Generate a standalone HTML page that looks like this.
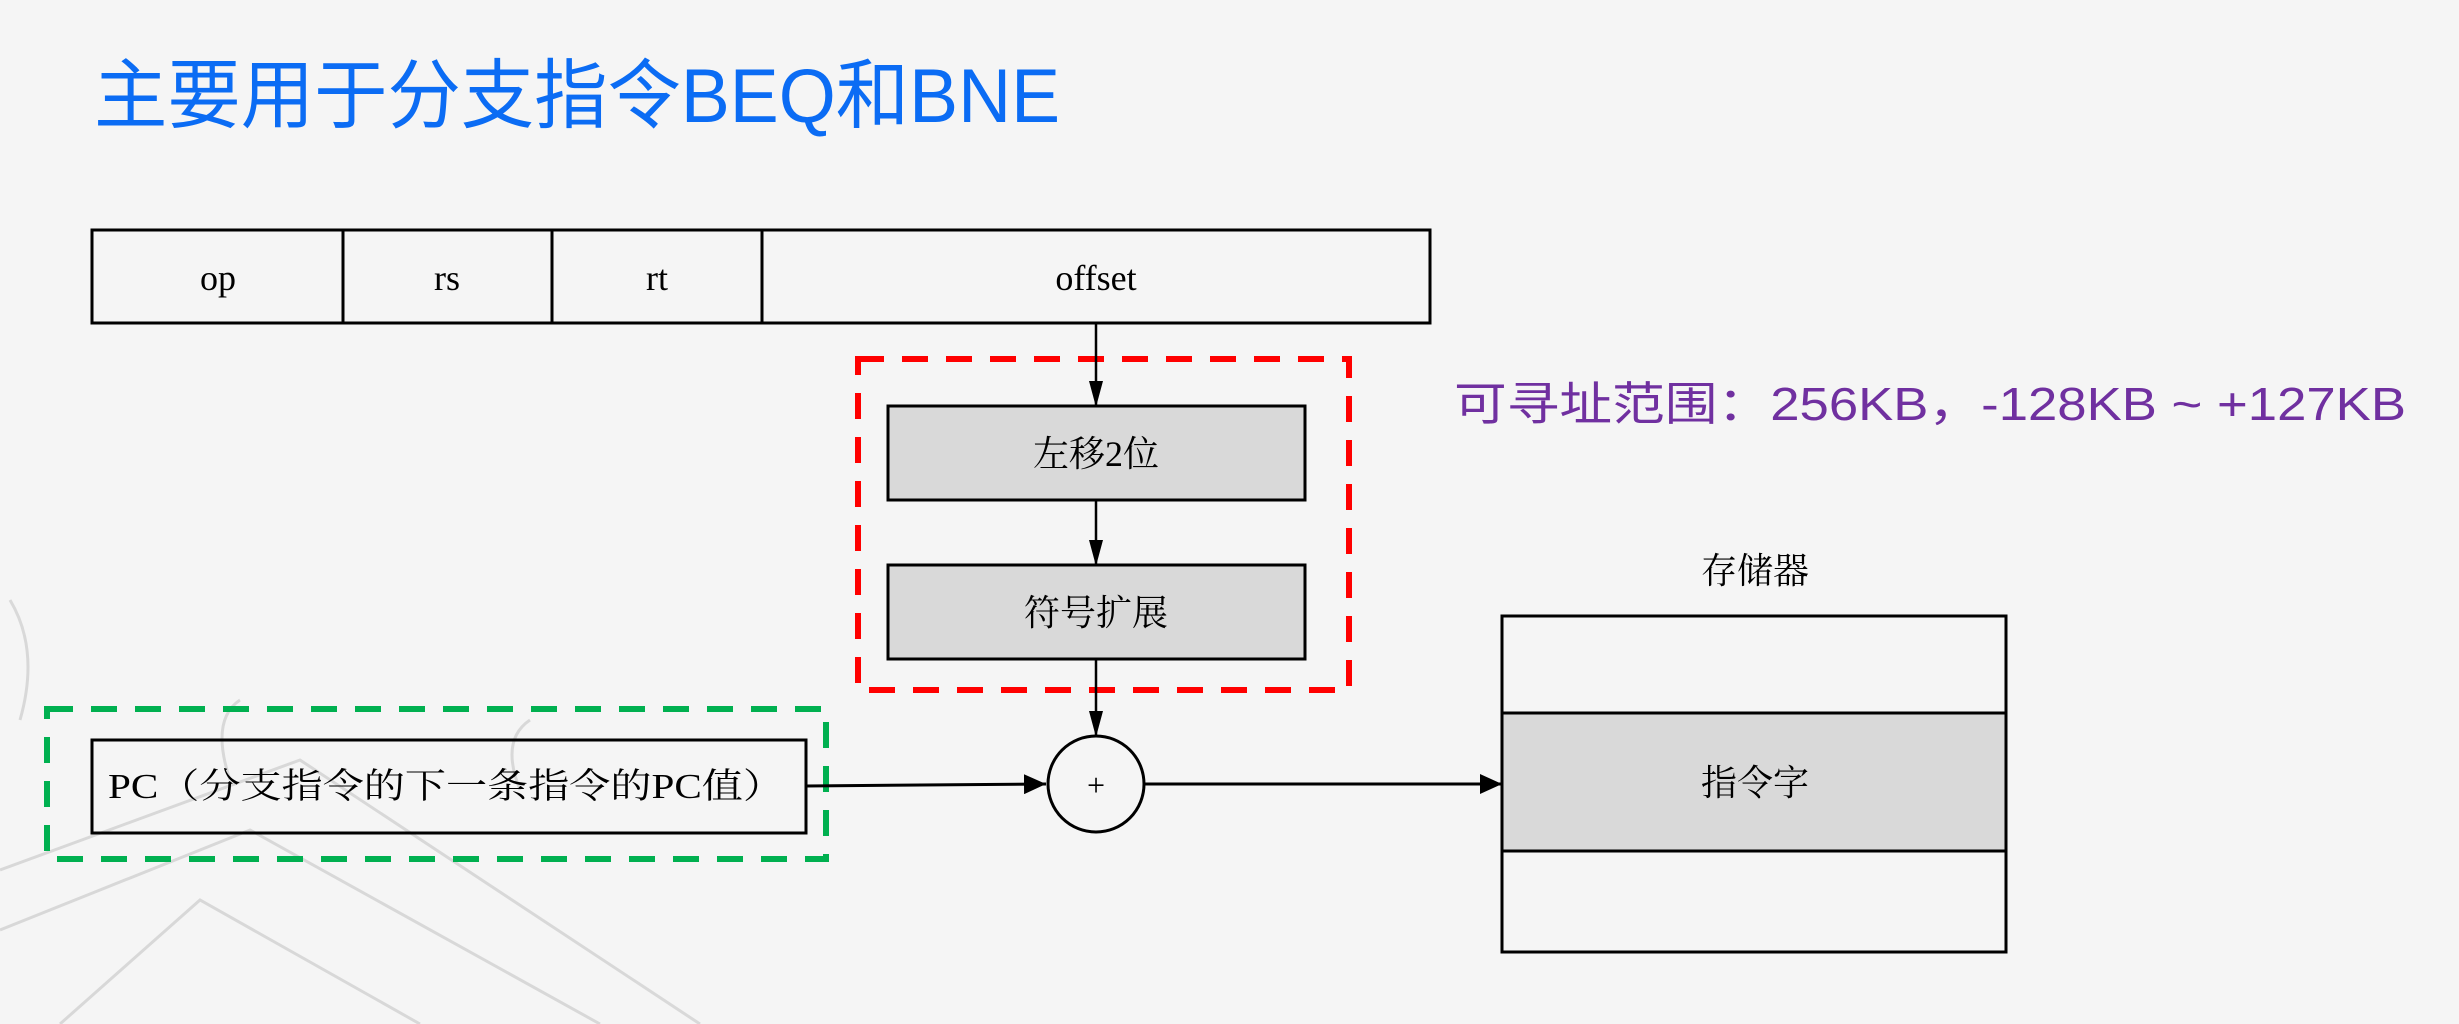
<!DOCTYPE html>
<html><head><meta charset="utf-8"><style>
html,body{margin:0;padding:0;background:#f5f5f5;}
svg{display:block}
</style></head><body>
<svg width="2459" height="1024" viewBox="0 0 2459 1024" xmlns="http://www.w3.org/2000/svg">
<defs>
<marker id="ah" markerWidth="26" markerHeight="14" refX="24" refY="7" orient="auto" markerUnits="userSpaceOnUse">
<path d="M0,0 L26,7 L0,14 Z" fill="#000"/>
</marker>
<marker id="ah2" markerWidth="24" markerHeight="20" refX="22" refY="10" orient="auto" markerUnits="userSpaceOnUse">
<path d="M0,0 L22,10 L0,20 Z" fill="#000"/>
</marker>
</defs>
<rect width="2459" height="1024" fill="#f5f5f5"/>
<g stroke="#d2d2d2" stroke-width="3" fill="none" opacity="0.8">
<path d="M0,870 L300,760 L700,1024"/>
<path d="M0,930 L250,830 L600,1024"/>
<path d="M60,1024 L200,900 L420,1024"/>
<path d="M10,600 Q40,650 20,720"/>
<path d="M230,780 Q210,720 240,700"/>
<path d="M520,790 Q500,740 530,720"/>
</g>
<text x="94" y="122" font-family="Liberation Sans, Noto Sans CJK SC, sans-serif" font-size="76" fill="#0b6cf4" textLength="966" lengthAdjust="spacingAndGlyphs">主要用于分支指令BEQ和BNE</text>

<g stroke="#000" stroke-width="3" fill="none">
<rect x="92" y="230" width="1338" height="93"/>
<line x1="343" y1="230" x2="343" y2="323"/>
<line x1="552" y1="230" x2="552" y2="323"/>
<line x1="762" y1="230" x2="762" y2="323"/>
</g>
<g font-family="Liberation Serif, Noto Serif CJK SC, serif" font-size="36" text-anchor="middle" fill="#000">
<text x="218" y="290">op</text>
<text x="447" y="290">rs</text>
<text x="657" y="290">rt</text>
<text x="1096" y="290">offset</text>
</g>

<rect x="858" y="359" width="491" height="331" fill="none" stroke="#ff0000" stroke-width="6" stroke-dasharray="26,18"/>
<rect x="888" y="406" width="417" height="94" fill="#d9d9d9" stroke="#000" stroke-width="3"/>
<rect x="888" y="565" width="417" height="94" fill="#d9d9d9" stroke="#000" stroke-width="3"/>
<g font-family="Liberation Serif, Noto Serif CJK SC, serif" font-size="36" text-anchor="middle" fill="#000">
<text x="1096" y="466">左移2位</text>
<text x="1096" y="625">符号扩展</text>
</g>
<g stroke="#000" stroke-width="2.5">
<line x1="1096" y1="323" x2="1096" y2="405" marker-end="url(#ah)"/>
<line x1="1096" y1="500" x2="1096" y2="564" marker-end="url(#ah)"/>
<line x1="1096" y1="659" x2="1096" y2="735" marker-end="url(#ah)"/>
</g>

<rect x="47" y="709" width="779" height="150" fill="none" stroke="#00b050" stroke-width="6" stroke-dasharray="26,18"/>
<rect x="92" y="740" width="714" height="93" fill="none" stroke="#000" stroke-width="3"/>
<text x="108" y="798" font-family="Liberation Serif, Noto Serif CJK SC, serif" font-size="35" fill="#000" textLength="676" lengthAdjust="spacingAndGlyphs">PC（分支指令的下一条指令的PC值）</text>

<circle cx="1096" cy="784" r="48" fill="#f5f5f5" stroke="#000" stroke-width="3"/>
<text x="1096" y="796" font-family="Liberation Serif, serif" font-size="32" text-anchor="middle">+</text>
<g stroke="#000" stroke-width="3">
<line x1="806" y1="786" x2="1046" y2="784" marker-end="url(#ah2)"/>
<line x1="1145" y1="784" x2="1502" y2="784" marker-end="url(#ah2)"/>
</g>

<text x="1755" y="583" font-family="Liberation Serif, Noto Serif CJK SC, serif" font-size="36" text-anchor="middle">存储器</text>
<rect x="1502" y="616" width="504" height="336" fill="#f5f5f5" stroke="#000" stroke-width="3"/>
<rect x="1502" y="713" width="504" height="138" fill="#d9d9d9" stroke="#000" stroke-width="3"/>
<text x="1755" y="795" font-family="Liberation Serif, Noto Serif CJK SC, serif" font-size="36" text-anchor="middle">指令字</text>

<text x="1454" y="420" font-family="Liberation Sans, Noto Sans CJK SC, sans-serif" font-size="46" fill="#7030a0" textLength="952" lengthAdjust="spacingAndGlyphs">可寻址范围：256KB，-128KB ~ +127KB</text>
</svg>
</body></html>
